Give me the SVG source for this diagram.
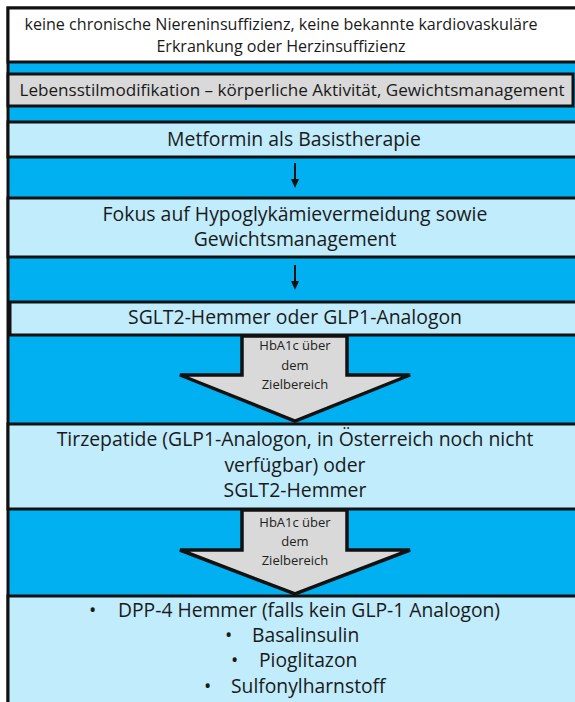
<svg xmlns="http://www.w3.org/2000/svg" width="575" height="702" viewBox="0 0 575 702">
<style>
  .frame { fill: #00B0F0; stroke: #111; stroke-width: 3; }
  .box { stroke: #111; stroke-width: 3; }
  .white { fill: #FFFFFF; }
  .gray { fill: #D9D9D9; }
  .light { fill: #C1ECFC; }
  .t { font-family: "Open Sans", "Liberation Sans", sans-serif; font-size: 19.4px; fill: #1a1a1a; text-anchor: middle; }
  .tl { font-family: "Open Sans", "Liberation Sans", sans-serif; font-size: 19.3px; fill: #1a1a1a; }
  .s { font-family: "Open Sans", "Liberation Sans", sans-serif; font-size: 13px; fill: #222; text-anchor: middle; }
  .big { fill: #D9D9D9; stroke: #111; stroke-width: 3.5; stroke-linejoin: miter; }
  .thin { stroke: #111; stroke-width: 2; fill: none; }
  .head { fill: #111; }
</style>
<rect width="575" height="702" fill="#FFFFFF"/>
<rect class="frame" x="8" y="8" width="580" height="720"/>

<g id="n1">
  <rect class="box white" x="8" y="8" width="580" height="54"/>
  <text class="t" x="281" y="30" style="font-size:16.1px">keine chronische Niereninsuffizienz, keine bekannte kardiovaskuläre</text>
  <text class="t" x="281" y="52" style="font-size:16.1px">Erkrankung oder Herzinsuffizienz</text>
</g>
<g id="n2">
  <rect class="box gray" x="8" y="74" width="565" height="32"/>
  <text class="t" x="292" y="96" style="font-size:17.1px">Lebensstilmodifikation – körperliche Aktivität, Gewichtsmanagement</text>
</g>
<g id="n3">
  <rect class="box light" x="8" y="122" width="580" height="35"/>
  <text class="t" x="294" y="146">Metformin als Basistherapie</text>
</g>
<g id="n4">
  <rect class="box light" x="8" y="198" width="580" height="59"/>
  <text class="t" x="295" y="221">Fokus auf Hypoglykämievermeidung sowie</text>
  <text class="t" x="295" y="246">Gewichtsmanagement</text>
</g>
<g id="n5">
  <rect class="box light" x="10" y="302" width="578" height="33"/>
  <text class="t" x="295" y="324">SGLT2-Hemmer oder GLP1-Analogon</text>
</g>
<g id="n6">
  <rect class="box light" x="8" y="424" width="580" height="85"/>
  <text class="t" x="295" y="446">Tirzepatide  (GLP1-Analogon, in Österreich noch nicht</text>
  <text class="t" x="295" y="472">verfügbar) oder</text>
  <text class="t" x="295" y="497">SGLT2-Hemmer</text>
</g>
<g id="n7">
  <rect class="box light" x="8" y="596" width="580" height="130"/>
  <text class="tl" x="89" y="617">•</text>
  <text class="tl" x="118" y="617">DPP-4 Hemmer (falls kein GLP-1 Analogon)</text>
  <text class="tl" x="225" y="642">•</text>
  <text class="tl" x="252" y="642">Basalinsulin</text>
  <text class="tl" x="231" y="667">•</text>
  <text class="tl" x="259" y="667">Pioglitazon</text>
  <text class="tl" x="204" y="693">•</text>
  <text class="tl" x="231" y="693">Sulfonylharnstoff</text>
</g>

<g id="connectors">
  <g id="c_a1">
    <line class="thin" x1="295" y1="163" x2="295" y2="180"/>
    <polygon class="head" points="291,179 299,179 295,188"/>
  </g>
  <g id="c_a2">
    <line class="thin" x1="295" y1="265" x2="295" y2="282"/>
    <polygon class="head" points="291,281 299,281 295,290"/>
  </g>
  <g id="c1">
    <polygon class="big" points="242,336 347,336 347,375 410,375 295,421 180,375 242,375"/>
    <text class="s" x="295" y="350">HbA1c über</text>
    <text class="s" x="295" y="370">dem</text>
    <text class="s" x="295" y="389">Zielbereich</text>
  </g>
  <g id="c2">
    <polygon class="big" points="242,510 347,510 347,550 410,550 295,594 180,550 242,550"/>
    <text class="s" x="295" y="527">HbA1c über</text>
    <text class="s" x="295" y="546">dem</text>
    <text class="s" x="295" y="565">Zielbereich</text>
  </g>
</g>
</svg>
